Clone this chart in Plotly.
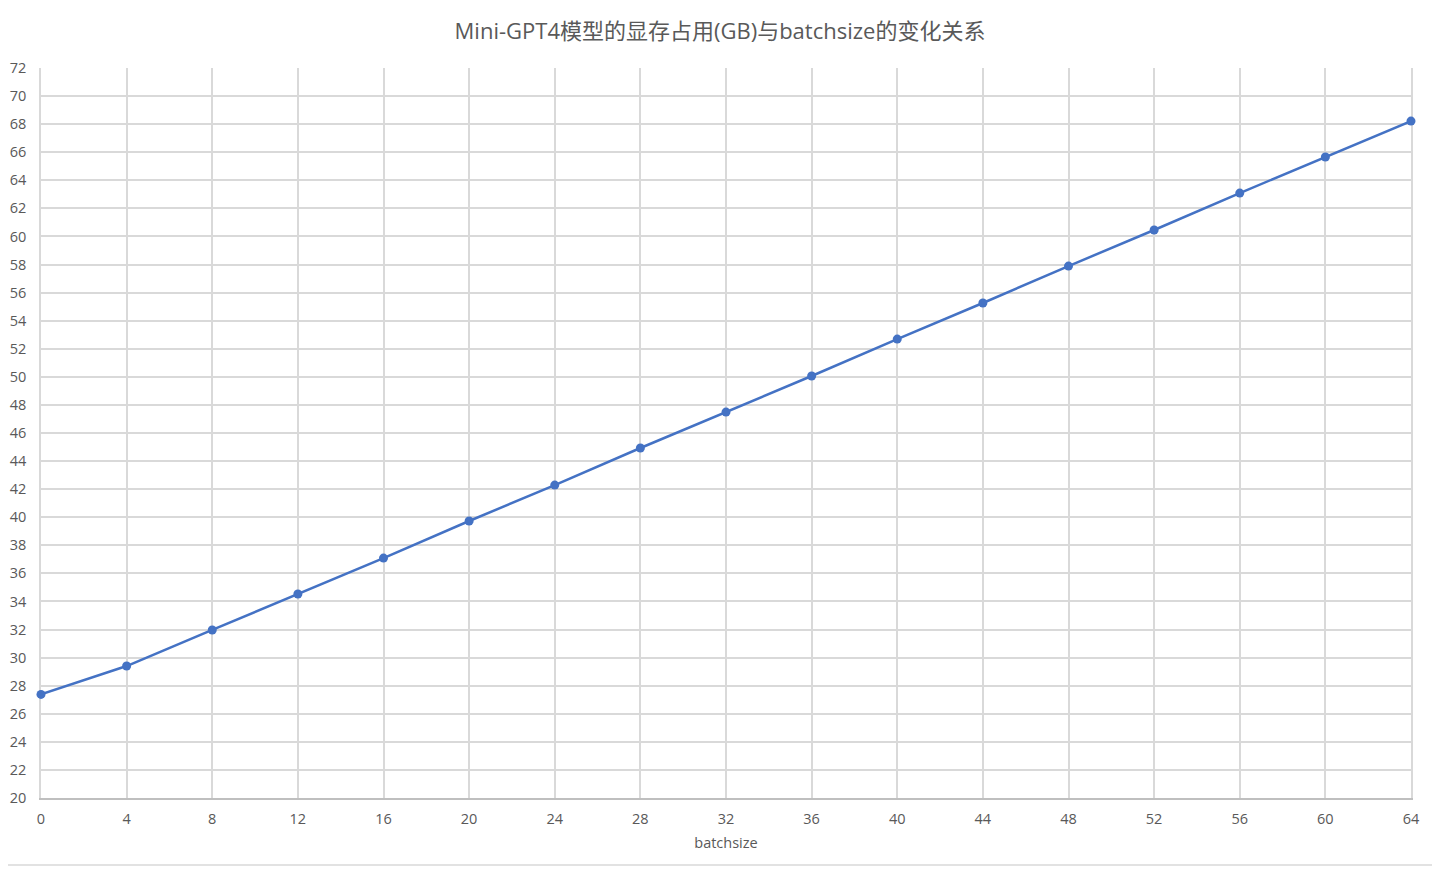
import plotly.graph_objects as go

batchsize = [0, 4, 8, 12, 16, 20, 24, 28, 32, 36, 40, 44, 48, 52, 56, 60, 64]
memory_gb = [27.38, 29.4, 31.97, 34.53, 37.09, 39.73, 42.29, 44.93, 47.49,
             50.06, 52.69, 55.26, 57.89, 60.46, 63.09, 65.66, 68.22]

x_ticks = list(range(0, 65, 4))
y_ticks = list(range(20, 73, 2))

title = "Mini-GPT4模型的显存占用(GB)与batchsize的变化关系"
grey = "#595959"
grid = "#d9d9d9"

# page has an 8px body margin, so the figure itself sits at (8, 8)
W, H = 1424, 859
L, R, T, B = 33, 21, 60, 69
pw, ph = W - L - R, H - T - B

fig = go.Figure()
fig.add_trace(go.Scatter(
    x=batchsize, y=memory_gb, mode="lines+markers",
    line=dict(color="#4472C4", width=2.5),
    marker=dict(color="#4472C4", size=9),
    showlegend=False, cliponaxis=False,
))

fig.update_layout(
    width=W, height=H,
    margin=dict(l=L, r=R, t=T, b=B),
    paper_bgcolor="white", plot_bgcolor="white",
    font=dict(family="Open Sans, Noto Sans CJK SC, sans-serif", color=grey),
    title=dict(text=title, x=0.5, xanchor="center", y=1 - 23 / H, yanchor="middle",
               font=dict(size=22, color=grey,
                         family="Open Sans, Noto Sans CJK SC, sans-serif")),
    xaxis=dict(
        range=[0, 64], tickvals=x_ticks, showgrid=True, gridcolor=grid, gridwidth=1.5,
        zeroline=False, showline=True, linecolor="#bfbfbf", linewidth=1.5,
        ticks="", ticklabelstandoff=7, tickfont=dict(size=14.5, color=grey),
        automargin=False, layer="below traces",
        title=dict(text="batchsize", font=dict(size=14.5, color=grey), standoff=11),
    ),
    yaxis=dict(
        range=[20, 72], tickvals=y_ticks, showgrid=True, gridcolor=grid, gridwidth=1.5,
        zeroline=False, showline=True, linecolor=grid, linewidth=1.5, mirror=True,
        ticks="", ticklabelstandoff=10, layer="below traces",
        tickfont=dict(size=14.5, color=grey), automargin=False,
    ),
    shapes=[dict(type="rect", xref="paper", yref="paper",
                 x0=(-7 - L) / pw, x1=(1430 - L) / pw,
                 y0=(H - B - 857) / ph, y1=(H - B + 7) / ph,
                 line=dict(color="#d9d9d9", width=1.5), layer="below")],
)

fig.write_html("out.html")
